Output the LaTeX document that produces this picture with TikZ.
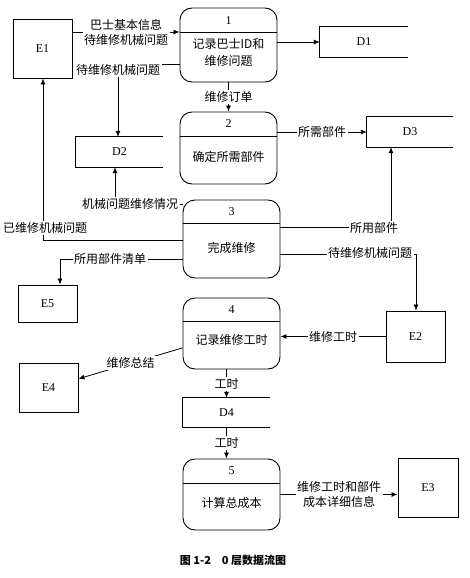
\documentclass[tikz,border=0pt]{standalone}
\usepackage{fontspec}
\setmainfont{Liberation Serif}
\newfontfamily\cjk{Noto Sans CJK SC}
\usepackage{tikz}
\usetikzlibrary{calc,positioning,arrows.meta}
\tikzset{
proc/.style={draw, line width=0.9pt, rounded corners=12pt, minimum width=97pt, inner sep=0pt}, % processes
ext/.style={draw, line width=0.9pt, minimum width=59pt, inner sep=0pt, font=\fontsize{12}{14}\selectfont}, % external entities
store/.style={minimum width=87pt, minimum height=30pt, inner sep=0pt, font=\fontsize{12}{14}\selectfont}, % data stores
num/.style={inner sep=0pt, font=\fontsize{12}{14}\selectfont},
ptext/.style={inner sep=0pt, align=center, font=\cjk\fontsize{12}{17}\selectfont},
lbl/.style={fill=white, inner sep=1.5pt, align=center, font=\cjk\fontsize{12}{15}\selectfont},
flow/.style={line width=0.8pt, -{Latex[length=6pt,width=5pt]}},
}
\begin{document}
\begin{tikzpicture}[x=1pt,y=1pt,yscale=-1,xscale=1]
\useasboundingbox (0,0) rectangle (470,578);
%Processes
\node[proc, minimum height=74pt] (p1) at (228.5,45) {};
\coordinate (h1) at (228.5,32);
\draw[line width=0.9pt] (p1.west |- h1) -- (p1.east |- h1);
\node[num] (n1) at (228.5,21) {1};
\node[ptext] (t1) at (228.5,52) {记录巴士ID和\\维修问题};
\node[proc, minimum height=72pt] (p2) at (228.5,148) {};
\coordinate (h2) at (228.5,136);
\draw[line width=0.9pt] (p2.west |- h2) -- (p2.east |- h2);
\node[num] (n2) at (228.5,124) {2};
\node[ptext] (t2) at (228.5,157) {确定所需部件};
\node[proc, minimum height=78pt] (p3) at (231.5,239) {};
\coordinate (h3) at (231.5,223);
\draw[line width=0.9pt] (p3.west |- h3) -- (p3.east |- h3);
\node[num] (n3) at (231.5,212) {3};
\node[ptext] (t3) at (231.5,248) {完成维修};
\node[proc, minimum height=71pt] (p4) at (231.5,333.5) {};
\coordinate (h4) at (231.5,321);
\draw[line width=0.9pt] (p4.west |- h4) -- (p4.east |- h4);
\node[num] (n4) at (231.5,310) {4};
\node[ptext] (t4) at (231.5,340) {记录维修工时};
\node[proc, minimum height=71pt] (p5) at (231.5,494.5) {};
\coordinate (h5) at (231.5,483);
\draw[line width=0.9pt] (p5.west |- h5) -- (p5.east |- h5);
\node[num] (n5) at (231.5,471) {5};
\node[ptext] (t5) at (231.5,503) {计算总成本};
%External entities
\node[ext, minimum height=59pt] (e1) at (42.5,48.5) {E1};
\node[ext, minimum height=51pt] (e2) at (415.5,336.5) {E2};
\node[ext, minimum width=60pt, minimum height=59pt] (e3) at (428,487.5) {E3};
\node[ext, minimum height=49pt] (e4) at (48.5,387.5) {E4};
\node[ext, minimum height=37pt] (e5) at (47.5,303.5) {E5};
%Data stores
\node[store, minimum width=88pt] (d1) at (364,42) {D1};
\node[store] (d2) at (119.5,152) {D2};
\node[store, minimum width=86pt] (d3) at (410,132) {D3};
\node[store, minimum height=29pt] (d4) at (226.5,412.5) {D4};
\foreach \d in {d1,d2,d3,d4}
  \draw[line width=0.9pt] (\d.north east) -- (\d.north west) -- (\d.south west) -- (\d.south east);
%Flows
\draw[flow] (e1.east |- h1) -- node[lbl] (l1) {巴士基本信息\\待维修机械问题} (p1.west |- h1);
\coordinate (j1) at (118,64);
\draw[flow] (p1.west |- j1) -- (j1) -- (d2.north -| j1);
\node[lbl] (l2) at (118,70) {待维修机械问题};
\draw[flow] (p1.south) -- node[lbl] (l3) {维修订单} (p2.north);
\draw[flow] (p1.east |- d1.west) -- (d1.west);
\draw[flow] (p2.east |- d3.west) -- node[lbl] (l4) {所需部件} (d3.west);
\coordinate (j2) at (115,204);
\draw[flow] (p3.west |- j2) -- (j2) -- (d2.south -| j2);
\node[lbl] (l5) at (130,204) {机械问题维修情况};
\coordinate (j3) at (43,240);
\draw[flow] (p3.west |- j3) -- (j3) -- (e1.south -| j3);
\node[lbl] (l6) at (45,228) {已维修机械问题};
\coordinate (j4) at (60,259);
\draw[flow] (p3.west |- j4) -- (j4) -- (e5.north -| j4);
\node[lbl] (l7) at (110,259) {所用部件清单};
\coordinate (j5) at (391,227);
\draw[flow] (p3.east |- j5) -- (j5) -- (d3.south -| j5);
\node[lbl] (l8) at (374,228) {所用部件};
\coordinate (j6) at (416,254);
\draw[flow] (p3.east |- j6) -- (j6) -- (e2.north -| j6);
\node[lbl] (l9) at (370,253) {待维修机械问题};
\draw[flow] (e2.west) -- node[lbl] (l10) {维修工时} (p4.east |- e2.west);
\draw[flow] ($(p4.west)!0.4!(p4.south west)$) -- node[lbl] (l11) {维修总结} ($(e4.east)!0.35!(e4.north east)$);
\draw[flow] (p4.south -| d4) -- node[lbl] (l12) {工时} (d4.north);
\draw[flow] (d4.south) -- node[lbl] (l13) {工时} (p5.north -| d4);
\draw[flow] (p5.east) -- node[lbl] (l14) {维修工时和部件\\成本详细信息} (e3.west |- p5.east);
%Caption
\node[font=\cjk\bfseries\fontsize{11}{13}\selectfont] (cap) at (233,560) {图 1-2\quad 0 层数据流图};
\end{tikzpicture}
\end{document}
